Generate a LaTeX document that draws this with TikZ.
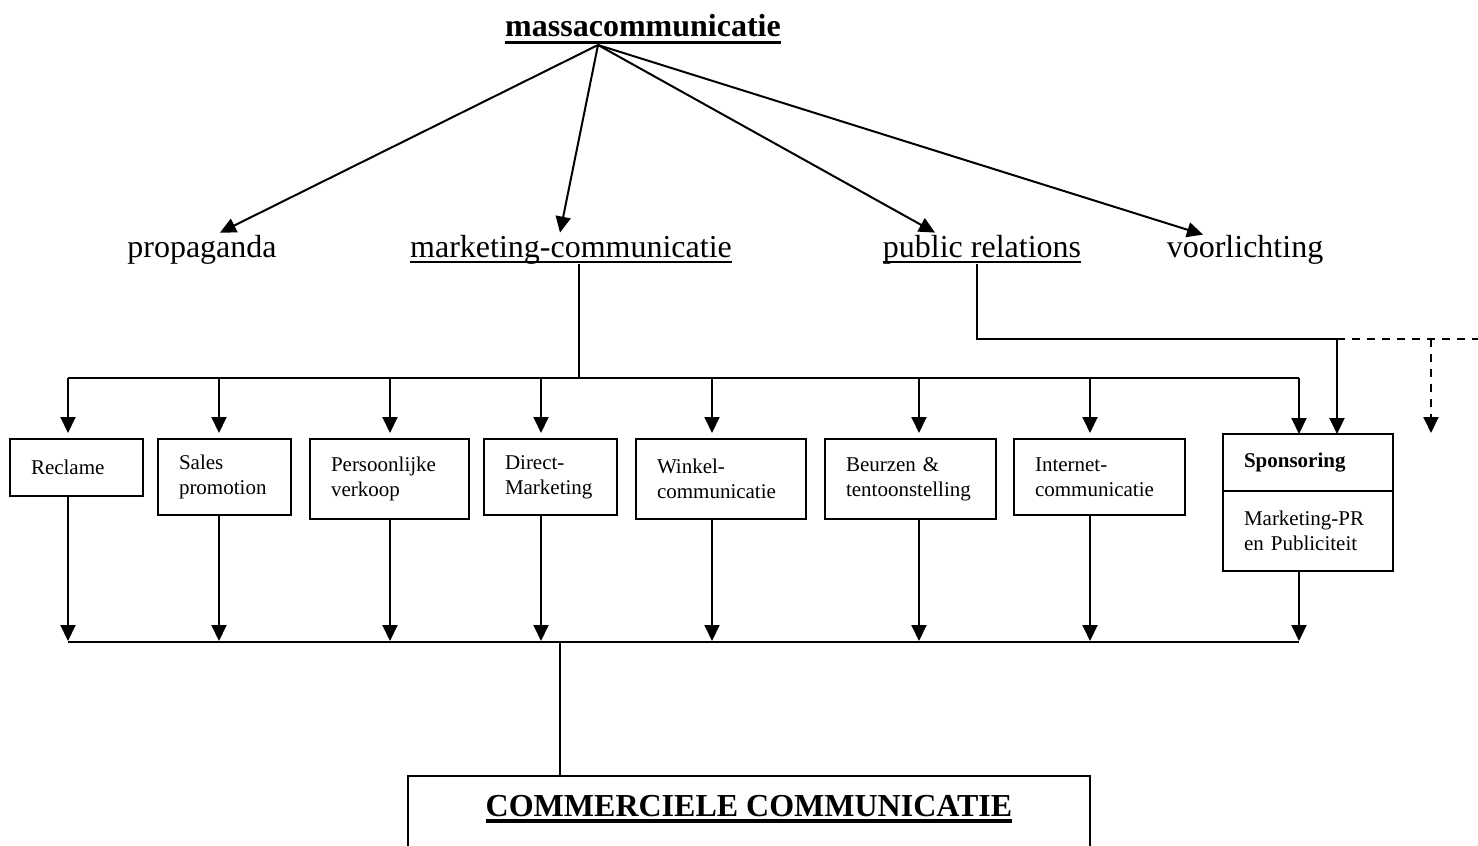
\documentclass[tikz,border=0pt]{standalone}
\usepackage{fontspec}
\setmainfont{Liberation Serif}
\usetikzlibrary{arrows.meta,positioning,calc}

\newcommand{\ondstreep}[3]{\leavevmode\setbox0=\hbox{#3}\rlap{\raisebox{-#1}{\rule{\wd0}{#2}}}\box0}

\tikzset{
  kop/.style={inner sep=0pt, anchor=base, font=\fontsize{32}{38}\selectfont},
  vak/.style={draw, line width=2pt, outer sep=0pt, inner xsep=21pt, inner ysep=0pt,
    anchor=north west, align=left, font=\fontsize{21}{25}\selectfont},
  pijl/.style={line width=2pt, -{Triangle[width=15pt,length=16pt]}},
  lijn/.style={line width=2pt},
  dun/.style={line width=1.5pt},
  stippel/.style={line width=2pt, dash pattern=on 8pt off 7pt},
}

\begin{document}
\begin{tikzpicture}[x=1pt, y=-1pt]
    \useasboundingbox (0,0) rectangle (1478,846);
    \clip (0,0) rectangle (1478,846);

    \node[kop, font=\fontsize{32}{38}\selectfont\bfseries] (massa) at (643,36) {\ondstreep{7.5pt}{3pt}{massacommunicatie}};
    \node[kop] (prop) at (202,257) {propaganda};
    \node[kop] (mc) at (571,257) {\ondstreep{5.75pt}{1.5pt}{marketing-communicatie}};
    \node[kop] (pr) at (982,257) {\ondstreep{5.75pt}{1.5pt}{public relations}};
    \node[kop] (voor) at (1245,257) {voorlichting};

    \coordinate (top) at ($(massa.base)+(-45,9)$);

    \node[vak, text width=91pt, minimum height=57pt] (reclame) at (10,439) {Reclame};
    \node[vak, right=15pt of reclame.north east, anchor=north west, text width=91pt, minimum height=76pt] (sales) {Sales\\promotion};
    \node[vak, right=19pt of sales.north east, anchor=north west, text width=117pt, minimum height=80pt] (pers) {Persoonlijke\\verkoop};
    \node[vak, right=15pt of pers.north east, anchor=north west, text width=91pt, minimum height=76pt] (direct) {Direct-\\Marketing};
    \node[vak, right=19pt of direct.north east, anchor=north west, text width=128pt, minimum height=80pt] (winkel) {Winkel-\\communicatie};
    \node[vak, right=19pt of winkel.north east, anchor=north west, text width=129pt, minimum height=80pt] (beurzen) {Beurzen \&\\tentoonstelling};
    \node[vak, right=18pt of beurzen.north east, anchor=north west, text width=129pt, minimum height=76pt] (internet) {Internet-\\communicatie};

    \node[vak, text width=128pt, minimum height=57pt, font=\fontsize{21}{25}\selectfont\bfseries] (spons) at (1223,434) {Sponsoring};
    \node[vak, below=0pt of spons.south west, anchor=north west, text width=128pt, minimum height=80pt] (mpr) {Marketing-PR\\en Publiciteit};

    \node[draw, line width=2pt, outer sep=0pt, inner ysep=19pt, minimum width=682pt, text depth=60pt,
      anchor=north west, font=\fontsize{32}{38}\selectfont\bfseries] (comm) at (408,776)
      {\ondstreep{6.75pt}{3.5pt}{COMMERCIELE COMMUNICATIE}};

    \draw[pijl] (top) -- ($(prop.north)+(18,-2)$);
    \draw[pijl] (top) -- ($(mc.north)+(-11,-2)$);
    \draw[pijl] (top) -- ($(pr.north)+(-47,-2)$);
    \draw[pijl] (top) -- ($(voor.north)+(-42,0)$);

    \coordinate (mbus) at ($(reclame.north west)+(58,-61)$);
    \draw[dun] ($(mc.south)+(8,0)$) coordinate (m0) -- (m0 |- mbus);
    \draw[lijn] (mbus) -- ($(spons.north west)+(76,-56)$);

    \foreach \b/\dx in {reclame/58, sales/61, pers/80, direct/57, winkel/76, beurzen/94, internet/76}{
      \draw[pijl] ($(\b.north west)+(\dx,-61)$) -- ($(\b.north west)+(\dx,-6)$);
      \draw[pijl] ($(\b.south west)+(\dx,0)$) -- ($(\b.north west)+(\dx,202)$);
    }
    \draw[pijl] ($(spons.north west)+(76,-56)$) -- ($(spons.north west)+(76,0)$);
    \draw[pijl] ($(mpr.south west)+(76,0)$) -- ($(mpr.north west)+(76,150)$);

    \coordinate (prbus) at ($(spons.north west)+(114,-95)$);
    \draw[dun] ($(pr.south)+(-5,0)$) coordinate (p0) -- (p0 |- prbus) -- (prbus);
    \draw[pijl] (prbus) -- (prbus |- spons.north);
    \draw[stippel] (prbus) -- ($(prbus)+(141,0)$);
    \coordinate (dbus) at ($(prbus)+(94,0)$);
    \draw[stippel, -{Triangle[width=15pt,length=16pt]}] (dbus) -- ($(dbus |- spons.north)+(0,-1)$);

    \draw[lijn] ($(reclame.north west)+(58,203)$) -- ($(mpr.north west)+(76,151)$);
    \draw[lijn] ($(comm.north west)+(152,-134)$) -- (comm.north west -| {$(comm.north west)+(152,0)$});
\end{tikzpicture}
\end{document}
